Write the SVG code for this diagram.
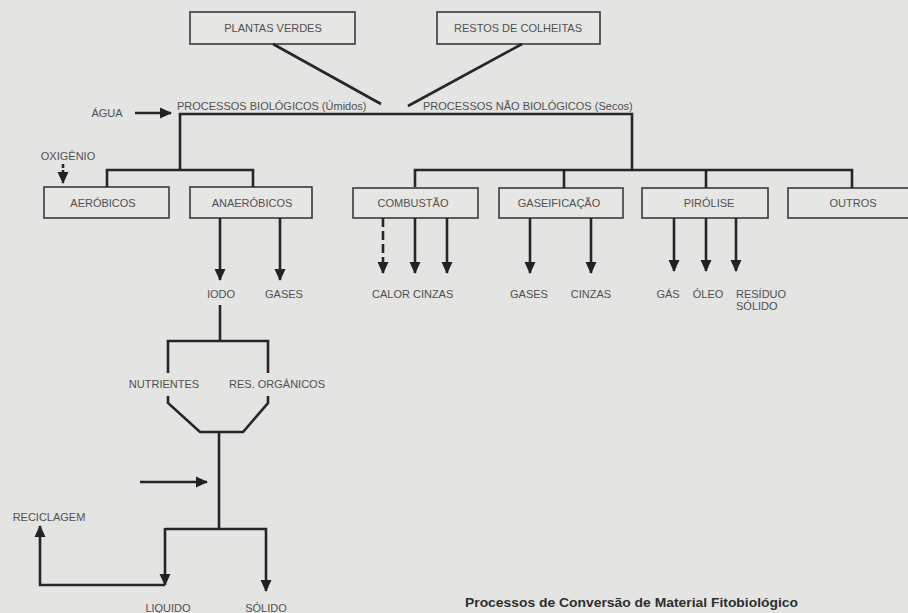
<svg xmlns="http://www.w3.org/2000/svg" width="908" height="613" viewBox="0 0 908 613">
<style>
.bg{fill:#e4e4e2}
.box{fill:#e6e6e4;stroke:#3a3a3a;stroke-width:1.6}
.t{font-family:"Liberation Sans",Arial,sans-serif;font-size:11px;fill:#505050}
.tm{text-anchor:middle}
.ln{fill:none;stroke:#262626;stroke-width:2.6}
.ar{fill:none;stroke:#262626;stroke-width:2.6;marker-end:url(#ah)}
.cap{font-family:"Liberation Sans",Arial,sans-serif;font-size:13px;font-weight:bold;fill:#2e2e2e}
</style>
<defs>
<marker id="ah" markerUnits="userSpaceOnUse" markerWidth="12" markerHeight="12" refX="11" refY="6" orient="auto">
<path d="M0,0.5 L12,6 L0,11.5 z" fill="#222"/>
</marker>
</defs>
<rect class="bg" x="0" y="0" width="908" height="613"/>

<g id="plantas-verdes"><rect class="box" x="190" y="12" width="165" height="32"/><text class="t tm" x="273" y="32">PLANTAS VERDES</text></g>
<g id="restos-colheitas"><rect class="box" x="437" y="12" width="163" height="32"/><text class="t tm" x="518" y="32">RESTOS DE COLHEITAS</text></g>

<g id="agua"><text class="t tm" x="107" y="117">ÁGUA</text></g>
<g id="proc-bio"><text class="t" x="177" y="110">PROCESSOS BIOLÓGICOS (Úmidos)</text></g>
<g id="proc-nao-bio"><text class="t" x="423" y="110">PROCESSOS NÃO BIOLÓGICOS (Secos)</text></g>
<g id="oxigenio"><text class="t tm" x="68" y="160" font-size="10">OXIGÊNIO</text></g>

<g id="aerobicos"><rect class="box" x="44" y="187" width="125" height="31"/><text class="t tm" x="103" y="207">AERÓBICOS</text></g>
<g id="anaerobicos"><rect class="box" x="190" y="187" width="122" height="31"/><text class="t tm" x="252" y="207">ANAERÓBICOS</text></g>
<g id="combustao"><rect class="box" x="353" y="188" width="125" height="30"/><text class="t tm" x="413" y="207">COMBUSTÃO</text></g>
<g id="gaseificacao"><rect class="box" x="499" y="188" width="124" height="30"/><text class="t tm" x="559" y="207">GASEIFICAÇÃO</text></g>
<g id="pirolise"><rect class="box" x="642" y="188" width="126" height="30"/><text class="t tm" x="709" y="207">PIRÓLISE</text></g>
<g id="outros"><rect class="box" x="788" y="188" width="130" height="30"/><text class="t tm" x="853" y="207">OUTROS</text></g>

<g id="iodo"><text class="t tm" x="221" y="298">IODO</text></g>
<g id="gases-an"><text class="t tm" x="284" y="298">GASES</text></g>
<g id="calor-cinzas"><text class="t" x="372" y="298">CALOR CINZAS</text></g>
<g id="gases-gas"><text class="t tm" x="529" y="298">GASES</text></g>
<g id="cinzas-gas"><text class="t tm" x="591" y="298">CINZAS</text></g>
<g id="gas-pir"><text class="t tm" x="668" y="298">GÁS</text></g>
<g id="oleo-pir"><text class="t tm" x="708" y="298">ÓLEO</text></g>
<g id="residuo-pir"><text class="t" x="736" y="298">RESÍDUO</text><text class="t" x="736" y="310">SÓLIDO</text></g>

<g id="nutrientes"><text class="t tm" x="164" y="388">NUTRIENTES</text></g>
<g id="res-organicos"><text class="t tm" x="277" y="388">RES. ORGÂNICOS</text></g>
<g id="reciclagem"><text class="t tm" x="49" y="521">RECICLAGEM</text></g>
<g id="liquido"><text class="t tm" x="168" y="612">LIQUIDO</text></g>
<g id="solido"><text class="t tm" x="266" y="612">SÓLIDO</text></g>

<g id="caption"><text class="cap" x="465" y="607" textLength="333" lengthAdjust="spacingAndGlyphs">Processos de Conversão de Material Fitobiológico</text></g>

<g id="connectors">
<line class="ln" x1="273" y1="44" x2="381" y2="104"/>
<line class="ln" x1="522" y1="44" x2="408" y2="106"/>
<line class="ar" x1="135" y1="113" x2="171" y2="113"/>
<polyline class="ln" points="180,170 180,114 632,114 632,170"/>
<polyline class="ln" points="107,187 107,170 253,170 253,187"/>
<polyline class="ln" points="415,187 415,170 852,170 852,188"/>
<line class="ln" x1="564" y1="170" x2="564" y2="188"/>
<line class="ln" x1="706" y1="170" x2="706" y2="188"/>
<line class="ar" x1="63" y1="164" x2="63" y2="183" stroke-dasharray="4,2"/>
<line class="ar" x1="220" y1="218" x2="220" y2="280"/>
<line class="ar" x1="280" y1="218" x2="280" y2="280"/>
<line class="ar" x1="383" y1="218" x2="383" y2="273" stroke-dasharray="9,4"/>
<line class="ar" x1="415" y1="218" x2="415" y2="273"/>
<line class="ar" x1="447" y1="218" x2="447" y2="273"/>
<line class="ar" x1="530" y1="218" x2="530" y2="273"/>
<line class="ar" x1="591" y1="218" x2="591" y2="273"/>
<line class="ar" x1="674" y1="218" x2="674" y2="271"/>
<line class="ar" x1="706" y1="218" x2="706" y2="271"/>
<line class="ar" x1="736" y1="218" x2="736" y2="271"/>
<line class="ln" x1="220" y1="305" x2="220" y2="341"/>
<polyline class="ln" points="168,373 168,341 268,341 268,373"/>
<polyline class="ln" points="168,396 168,403 200,432 243,432 268,403 268,396"/>
<line class="ln" x1="219" y1="432" x2="219" y2="529"/>
<line class="ar" x1="140" y1="482" x2="207" y2="482"/>
<polyline class="ar" points="165,529 266,529 266,591"/>
<line class="ar" x1="165" y1="528" x2="165" y2="585"/>
<polyline class="ar" points="165,585 40,585 40,526"/>
</g>
</svg>
